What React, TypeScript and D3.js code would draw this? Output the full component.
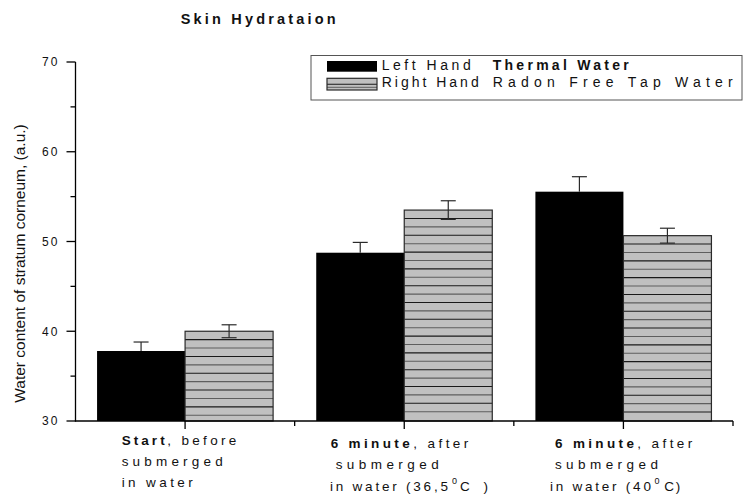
import React from "react";
import * as d3 from "d3";

const categories = ["start", "six36", "six40"];
const leftHand = [37.8, 48.75, 55.55];
const leftErr = [1.0, 1.15, 1.67];
const rightHand = [40.0, 53.5, 50.65];
const rightErr = [0.72, 1.04, 0.83];
const majorTicks = [30, 40, 50, 60, 70];
const minorTicks = [35, 45, 55, 65];
const seriesNames = ["Left Hand", "Right Hand"];

type Seg = { t: string; dx: number; len: number; bold?: boolean; sup?: boolean };
const catLabels: { dy: number; segs: Seg[] }[][] = [
  [
    { dy: 24, segs: [{ t: "Start", dx: -63.4, len: 43, bold: true }, { t: ", before", dx: -17.8, len: 69 }] },
    { dy: 44.5, segs: [{ t: "submerged", dx: -63.4, len: 101 }] },
    { dy: 65.5, segs: [{ t: "in water", dx: -63.4, len: 71 }] },
  ],
  [
    { dy: 26.5, segs: [{ t: "6 minute", dx: -73.6, len: 79, bold: true }, { t: ", after", dx: 9.0, len: 55 }] },
    { dy: 48, segs: [{ t: "submerged", dx: -68.6, len: 103 }] },
    { dy: 70, segs: [{ t: "in water (36,5", dx: -74.3, len: 118 }, { t: "0", dx: 47.8, len: 5, sup: true }, { t: "C )", dx: 55.7, len: 28 }] },
  ],
  [
    { dy: 26.5, segs: [{ t: "6 minute", dx: -68.5, len: 79, bold: true }, { t: ", after", dx: 13.8, len: 55 }] },
    { dy: 48, segs: [{ t: "submerged", dx: -68.5, len: 103 }] },
    { dy: 70, segs: [{ t: "in water (40", dx: -73.5, len: 101 }, { t: "0", dx: 31.2, len: 5, sup: true }, { t: "C )", dx: 40.8, len: 16 }] },
  ],
];

const W = 745;
const H = 497;
const FONT = "'Liberation Sans', Arial, sans-serif";

export default function App() {
  const x0 = 75.5;
  const x1 = 733;
  const yb = 421;
  const yt = 62;
  const x = d3.scaleBand<string>().domain(categories).range([x0, x1]).padding(0);
  const xs = d3.scaleBand<string>().domain(seriesNames).range([0, x.bandwidth()]).paddingInner(0).paddingOuter(0.245);
  const y = d3.scaleLinear().domain([30, 70]).range([yb, yt]);
  const bw = xs.bandwidth();

  const hatchStep = 8.4;

  const errBar = (cx: number, v: number, e: number, key: string, upperOnly: boolean) => {
    const capW = 7.5;
    const lo = upperOnly ? v : v - e;
    return (
      <g key={key} stroke="#2a2a2a" strokeWidth={1.2}>
        <line x1={cx} x2={cx} y1={y(lo)} y2={y(v + e)} />
        <line x1={cx - capW} x2={cx + capW} y1={y(v + e)} y2={y(v + e)} />
        {!upperOnly && <line x1={cx - capW} x2={cx + capW} y1={y(v - e)} y2={y(v - e)} />}
      </g>
    );
  };

  return (
    <svg width={W} height={H} style={{ position: "absolute", left: 0, top: 0, background: "#fff" }} fontFamily={FONT}>
      <text x={180.7} y={23.5} fontSize={14.5} fontWeight="bold" textLength={155} lengthAdjust="spacing" fill="#111">
        Skin Hydrataion
      </text>

      <text
        transform={`translate(24.5, ${(yt + yb) / 2 + 22}) rotate(-90)`}
        textAnchor="middle"
        fontSize={15.5}
        fill="#111"
      >
        Water content of stratum corneum, (a.u.)
      </text>

      {categories.map((c, i) => {
        const bx = (x(c) as number) + (xs("Left Hand") as number);
        const gx = (x(c) as number) + (xs("Right Hand") as number);
        const gy = y(rightHand[i]);
        const lines: number[] = [];
        for (let k = 1; gy + k * hatchStep < yb - 1; k++) lines.push(gy + k * hatchStep);
        return (
          <g key={c}>
            <rect x={bx} y={y(leftHand[i])} width={bw} height={yb - y(leftHand[i])} fill="#000" />
            <rect x={gx} y={gy} width={bw} height={yb - gy} fill="#c0c0c0" />
            {lines.map((ly, k) => (
              <line key={k} x1={gx} x2={gx + bw} y1={ly} y2={ly} stroke={k % 2 === 0 ? "#1a1a1a" : "#5e5e5e"} strokeWidth={1.1} />
            ))}
            <rect x={gx} y={gy} width={bw} height={yb - gy} fill="none" stroke="#2a2a2a" strokeWidth={1.2} />
            {errBar(bx + bw / 2, leftHand[i], leftErr[i], "l" + i, true)}
            {errBar(gx + bw / 2, rightHand[i], rightErr[i], "r" + i, false)}
          </g>
        );
      })}

      <g stroke="#000" strokeWidth={1.3}>
        <line x1={x0} x2={x0} y1={yt} y2={yb + 0.6} />
        <line x1={x0 - 0.6} x2={x1} y1={yb} y2={yb} />
        {majorTicks.map((t) => (
          <line key={"M" + t} x1={x0 - 9} x2={x0} y1={y(t)} y2={y(t)} />
        ))}
        {minorTicks.map((t) => (
          <line key={"m" + t} x1={x0 - 5} x2={x0} y1={y(t)} y2={y(t)} />
        ))}
        {categories.map((c) => (
          <line key={"xt" + c} x1={(x(c) as number) + x.bandwidth() / 2} x2={(x(c) as number) + x.bandwidth() / 2} y1={yb} y2={yb + 8} />
        ))}
        {categories.map((c) => (
          <line key={"xb" + c} x1={(x(c) as number) + x.bandwidth()} x2={(x(c) as number) + x.bandwidth()} y1={yb} y2={yb + 5} />
        ))}
      </g>

      {majorTicks.map((t) => (
        <text key={"yl" + t} x={41.9} y={y(t) + 4.3} fontSize={12} textLength={15.5} lengthAdjust="spacing" fill="#111">
          {t}
        </text>
      ))}

      {categories.map((c, i) => {
        const cx = (x(c) as number) + x.bandwidth() / 2;
        return (
          <g key={"cl" + c} fill="#111">
            {catLabels[i].map((ln, li) =>
              ln.segs.map((s, si) => (
                <text
                  key={li + "-" + si}
                  x={cx + s.dx}
                  y={yb + ln.dy - (s.sup ? 7 : 0)}
                  fontSize={s.sup ? 9 : 13.5}
                  fontWeight={s.bold ? "bold" : "normal"}
                  textLength={s.len}
                  lengthAdjust="spacing"
                >
                  {s.t}
                </text>
              ))
            )}
          </g>
        );
      })}

      <g>
        <rect x={311} y={55.5} width={431} height={44.5} fill="#fff" stroke="#555" strokeWidth={1} />
        <rect x={327} y={61} width={50} height={10.7} fill="#000" />
        <rect x={327} y={78.3} width={50} height={11.7} fill="#c0c0c0" />
        <line x1={327} x2={377} y1={84.3} y2={84.3} stroke="#1a1a1a" strokeWidth={1.1} />
        <line x1={327} x2={377} y1={87.3} y2={87.3} stroke="#5e5e5e" strokeWidth={1} />
        <rect x={327} y={78.3} width={50} height={11.7} fill="none" stroke="#2a2a2a" strokeWidth={1.2} />
        <text x={381.7} y={69.5} fontSize={14} textLength={89} lengthAdjust="spacing" fill="#111">Left Hand</text>
        <text x={492.7} y={69.5} fontSize={14} fontWeight="bold" textLength={136} lengthAdjust="spacing" fill="#111">Thermal Water</text>
        <text x={381.7} y={87} fontSize={14} textLength={97} lengthAdjust="spacing" fill="#111">Right Hand</text>
        <text x={492.7} y={87} fontSize={14} textLength={240} lengthAdjust="spacing" fill="#111">Radon Free Tap Water</text>
      </g>
    </svg>
  );
}
